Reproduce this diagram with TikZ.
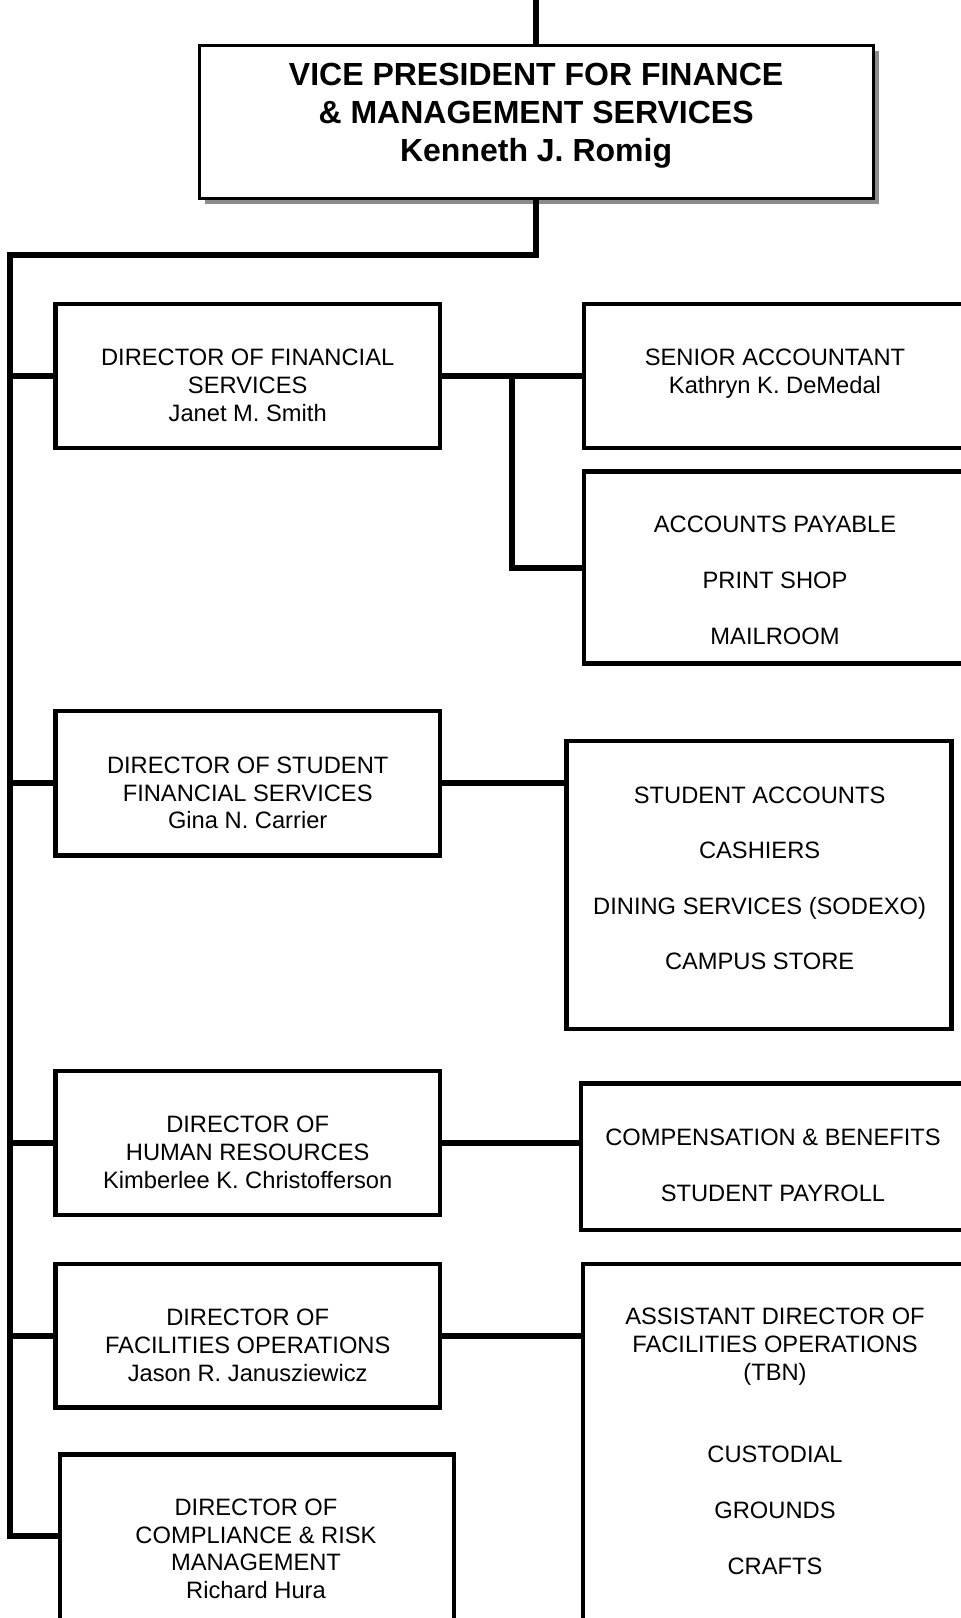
\documentclass[tikz,border=0pt]{standalone}
\usepackage{fontspec}
\setmainfont{Liberation Sans}
\usetikzlibrary{shadows}
\begin{document}
\begin{tikzpicture}[x=1pt,y=1pt,
  conn/.style={line width=6pt},
  box/.style={draw, line width=4.3pt, fill=white, inner sep=0pt, outer sep=0pt, anchor=north west},
  txt/.style={align=center, font=\fontsize{23.7}{27.9}\selectfont, inner sep=0pt, anchor=base},
  txtb/.style={align=center, font=\bfseries\fontsize{32}{37.7}\selectfont, inner sep=0pt, anchor=base}]
\useasboundingbox (0,0) rectangle (961,-1618);
\clip (0,0) rectangle (961,-1618);
% top box
\node[box, line width=3pt, minimum width=673.9pt, minimum height=152.7pt,
  drop shadow={shadow xshift=6pt, shadow yshift=-6pt, fill=black!45, opacity=1}] (vp) at (199.2,-45.4) {};
\node[txtb] (vpt) at (536.1,-161.1) {VICE PRESIDENT FOR FINANCE\\ \& MANAGEMENT SERVICES\\ Kenneth J. Romig};
% director boxes
\node[box, minimum width=384.5pt, minimum height=144pt] (dfs) at (55.5,-304) {};
\node[box, minimum width=384.5pt, minimum height=144.5pt] (dsfs) at (55.5,-711) {};
\node[box, minimum width=384.5pt, minimum height=143.5pt] (dhr) at (55.5,-1071.2) {};
\node[box, minimum width=384.5pt, minimum height=143.4pt] (dfo) at (55.5,-1264.2) {};
\node[box, minimum width=394pt, minimum height=200pt] (dcrm) at (60,-1454.5) {};
% right boxes
\node[box, minimum width=420pt, minimum height=144pt] (sa) at (584,-304) {};
\node[box, minimum width=420pt, minimum height=192pt] (ap) at (584,-471.6) {};
\node[box, minimum width=384.9pt, minimum height=287.9pt] (sfs) at (566.6,-741) {};
\node[box, minimum width=420pt, minimum height=146.5pt] (cb) at (581,-1083.6) {};
\node[box, minimum width=420pt, minimum height=400pt] (asst) at (583,-1264.2) {};
% texts (anchor = baseline of the last line)
\node[txt] (dfst) at (247.7,-421.3) {DIRECTOR OF FINANCIAL\\ SERVICES\\ Janet M. Smith};
\node[txt] (sat) at (775,-393.5) {SENIOR ACCOUNTANT\\ Kathryn K. DeMedal};
\node[txt] (apt) at (775,-644.2) {ACCOUNTS PAYABLE\\[27.8pt] PRINT SHOP\\[27.8pt] MAILROOM};
\node[txt] (dsfst) at (247.7,-828.9) {DIRECTOR OF STUDENT\\ FINANCIAL SERVICES\\ Gina N. Carrier};
\node[txt] (sfst) at (759.6,-969.3) {STUDENT ACCOUNTS\\[27.3pt] CASHIERS\\[27.3pt] DINING SERVICES (SODEXO)\\[27.3pt] CAMPUS STORE};
\node[txt] (dhrt) at (247.7,-1188.1) {DIRECTOR OF\\ HUMAN RESOURCES\\ Kimberlee K. Christofferson};
\node[txt] (cbt) at (773,-1201.5) {COMPENSATION \& BENEFITS\\[27.8pt] STUDENT PAYROLL};
\node[txt] (dfot) at (247.7,-1381.1) {DIRECTOR OF\\ FACILITIES OPERATIONS\\ Jason R. Janusziewicz};
\node[txt] (asstt) at (775,-1574) {ASSISTANT DIRECTOR OF\\ FACILITIES OPERATIONS\\ (TBN)\\[54.6pt] CUSTODIAL\\[27.8pt] GROUNDS\\[27.8pt] CRAFTS};
\node[txt] (dcrmt) at (256,-1598.8) {DIRECTOR OF\\ COMPLIANCE \& RISK\\ MANAGEMENT\\ Richard Hura};
% connectors
\coordinate (pagetop) at (0,0);
\coordinate (tl) at (10,-255);
\coordinate (tb) at (10,-1536);
\coordinate (fb) at (512,0);
\draw[line width=5.5pt] (vp.north) -- (vp.north |- pagetop);
\draw[conn] (vp.south) |- (tl) -- (tb) -- (tb -| dcrm.west);
\draw[conn] (tl |- dfs.west) -- (dfs.west);
\draw[conn] (tl |- dsfs.west) -- (dsfs.west);
\draw[conn] (tl |- dhr.west) -- (dhr.west);
\draw[conn] (tl |- dfo.west) -- (dfo.west);
\draw[conn] (dfs.east) -- (dfs.east -| sa.west);
\draw[conn] (fb |- dfs.east) |- (ap.west);
\draw[conn] (dsfs.east) -- (dsfs.east -| sfs.west);
\draw[conn] (dhr.east) -- (dhr.east -| cb.west);
\draw[conn] (dfo.east) -- (dfo.east -| asst.west);
\end{tikzpicture}
\end{document}
